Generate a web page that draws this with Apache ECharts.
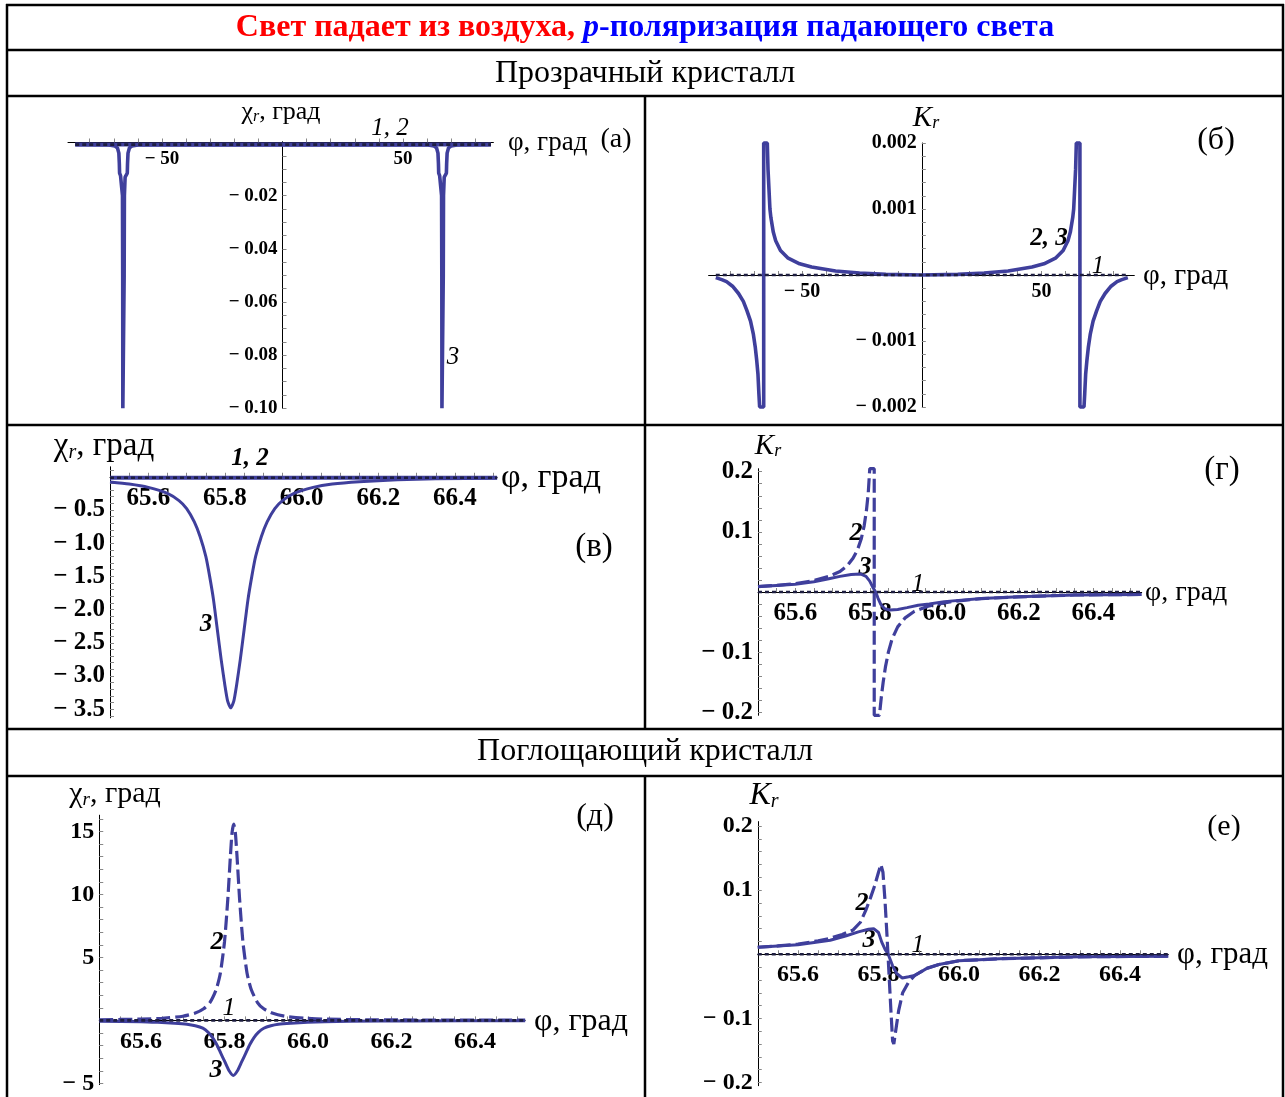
<!DOCTYPE html>
<html>
<head>
<meta charset="utf-8">
<script src="https://cdn.jsdelivr.net/npm/echarts@6/dist/echarts.min.js"></script>
<style>
  html, body { margin: 0; padding: 0; background: #fff; }
  #chart { width: 1285px; height: 1097px; }
</style>
</head>
<body>
<div id="chart"></div>
<script>
// Reflection at p-polarisation: χr and Kr vs angle of incidence φ
const chart = echarts.init(document.getElementById('chart'));

const BLUE = '#3f3f9c';
const DOT = '#1e1e40';
const SERIF = '"Liberation Serif", "Times New Roman", serif';

// ---- (а) transparent crystal, χr, wide range
const aXLabels = [-50, 50];
const aXTicks = [-80, -70, -60, -50, -40, -30, -20, -10, 10, 20, 30, 40, 50, 60, 70, 80];
const aYLabels = [-0.02, -0.04, -0.06, -0.08, -0.10];
const aYTicks = [-0.1, -0.095, -0.09, -0.085, -0.08, -0.075, -0.07, -0.065, -0.06, -0.055, -0.05,
  -0.045, -0.04, -0.035, -0.03, -0.025, -0.02, -0.015, -0.01, -0.005];
const aCurve12 = [[-86, -0.0008], [86.5, -0.0008]];
const aCurve3 = [[-86, -0.0008], [-72, -0.0009], [-69.5, -0.0013], [-68.5, -0.002], [-67.9, -0.004],
  [-67.7, -0.008], [-67.6, -0.0115], [-67.2, -0.0125], [-66.7, -0.013], [-66.4, -0.02], [-66.3, -0.05],
  [-66.25, -0.1], [-65.75, -0.1], [-65.7, -0.05], [-65.6, -0.02], [-65.3, -0.013], [-64.8, -0.0125],
  [-64.4, -0.0115], [-64.3, -0.008], [-64.1, -0.004], [-63.5, -0.002], [-62.5, -0.0013], [-60, -0.0009],
  [0, -0.0008], [60.4, -0.0009], [62.9, -0.0013], [63.9, -0.002], [64.5, -0.004], [64.7, -0.008],
  [64.8, -0.0115], [65.2, -0.0125], [65.7, -0.013], [66.0, -0.02], [66.1, -0.05], [66.15, -0.1],
  [66.65, -0.1], [66.7, -0.05], [66.8, -0.02], [67.1, -0.013], [67.6, -0.0125], [68, -0.0115],
  [68.1, -0.008], [68.3, -0.004], [68.9, -0.002], [69.9, -0.0013], [72.4, -0.0009], [86.5, -0.0008]];

// ---- (б) transparent crystal, Kr, wide range
const bXLabels = [-50, 50];
const bXTicks = [-80, -70, -60, -50, -40, -30, -20, -10, 10, 20, 30, 40, 50, 60, 70, 80];
const bYLabels = [0.002, 0.001, -0.001, -0.002];
const bYTicks = [-0.002, -0.0018, -0.0016, -0.0014, -0.0012, -0.001, -0.0008, -0.0006, -0.0004, -0.0002,
  0.0002, 0.0004, 0.0006, 0.0008, 0.001, 0.0012, 0.0014, 0.0016, 0.0018, 0.002];
const bCurve1 = [[-86, 0], [86, 0]];
const bCurve23 = [[-86, -0.00004], [-83.5, -0.00007], [-81.5, -0.0001], [-79, -0.00017], [-76.5, -0.00028],
  [-74.5, -0.0004], [-73, -0.00054], [-71.5, -0.0007], [-70.3, -0.0009], [-69.5, -0.0011], [-68.9, -0.0013],
  [-68.4, -0.0015], [-68, -0.0018], [-67.7, -0.002], [-66, -0.002], [-66, 0.002], [-64.5, 0.002],
  [-64.2, 0.0016], [-63.8, 0.0013], [-63.4, 0.001], [-63, 0.00087], [-62, 0.00065], [-61, 0.00052],
  [-59, 0.00037], [-56, 0.00026], [-51, 0.00017], [-46, 0.00012], [-36, 0.00006], [-26, 0.00003],
  [-15, 0.00001], [0, 0], [15, 0.00001], [26, 0.00003], [36, 0.00006], [46, 0.00012], [51, 0.00017],
  [56, 0.00026], [59, 0.00037], [61, 0.00052], [62, 0.00065], [63, 0.00087], [63.4, 0.001], [63.8, 0.0013],
  [64.2, 0.0016], [64.5, 0.002], [66, 0.002], [66, -0.002], [67.7, -0.002], [68, -0.0018], [68.4, -0.0015],
  [68.9, -0.0013], [69.5, -0.0011], [70.3, -0.0009], [71.5, -0.0007], [73, -0.00054], [74.5, -0.0004],
  [76.5, -0.00028], [79, -0.00017], [81.5, -0.0001], [83.5, -0.00007], [86, -0.00004]];

// ---- shared narrow-range x ticks (в, г, д, е)
const nXLabels = [65.6, 65.8, 66.0, 66.2, 66.4];
const nXTicks = [65.55, 65.6, 65.65, 65.7, 65.75, 65.8, 65.85, 65.9, 65.95, 66.0, 66.05, 66.1, 66.15,
  66.2, 66.25, 66.3, 66.35, 66.4, 66.45, 66.5];

// ---- (в) transparent crystal, χr, near 65.8°
const vYLabels = [-0.5, -1.0, -1.5, -2.0, -2.5, -3.0, -3.5];
const vYTicks = [-3.6, -3.5, -3.4, -3.3, -3.2, -3.1, -3.0, -2.9, -2.8, -2.7, -2.6, -2.5, -2.4, -2.3, -2.2,
  -2.1, -2.0, -1.9, -1.8, -1.7, -1.6, -1.5, -1.4, -1.3, -1.2, -1.1, -1.0, -0.9, -0.8, -0.7, -0.6, -0.5,
  -0.4, -0.3, -0.2, -0.1, 0.1];
const vCurve12 = [[65.5, -0.015], [66.51, -0.015]];
const vCurve3 = [[65.5, -0.08], [65.55, -0.11], [65.6, -0.16], [65.65, -0.25], [65.68, -0.36], [65.7, -0.48],
  [65.72, -0.68], [65.735, -0.9], [65.75, -1.2], [65.76, -1.5], [65.77, -1.85], [65.78, -2.3], [65.79, -2.75],
  [65.8, -3.15], [65.807, -3.38], [65.815, -3.48], [65.823, -3.38], [65.83, -3.15], [65.84, -2.75],
  [65.85, -2.3], [65.86, -1.85], [65.87, -1.5], [65.88, -1.2], [65.895, -0.9], [65.91, -0.68], [65.93, -0.48],
  [65.95, -0.36], [65.98, -0.25], [66.03, -0.16], [66.08, -0.11], [66.15, -0.075], [66.25, -0.045],
  [66.35, -0.03], [66.51, -0.02]];

// ---- (г) transparent crystal, Kr, near 65.8°
const gYLabels = [0.2, 0.1, -0.1, -0.2];
const gYTicks = [-0.2, -0.18, -0.16, -0.14, -0.12, -0.1, -0.08, -0.06, -0.04, -0.02,
  0.02, 0.04, 0.06, 0.08, 0.1, 0.12, 0.14, 0.16, 0.18, 0.2];
const gCurve1 = [[65.5, 0], [66.53, 0]];
const gCurve2 = [[65.5, 0.009], [65.55, 0.011], [65.6, 0.014], [65.65, 0.019], [65.69, 0.026], [65.72, 0.034],
  [65.74, 0.044], [65.755, 0.056], [65.767, 0.07], [65.777, 0.088], [65.785, 0.11], [65.791, 0.135],
  [65.796, 0.165], [65.8, 0.205], [65.812, 0.205], [65.812, -0.205], [65.826, -0.205], [65.831, -0.175],
  [65.836, -0.15], [65.842, -0.125], [65.85, -0.1], [65.86, -0.078], [65.875, -0.058], [65.895, -0.043],
  [65.92, -0.032], [65.96, -0.023], [66.02, -0.016], [66.1, -0.011], [66.2, -0.008], [66.35, -0.005],
  [66.53, -0.004]];
const gCurve3 = [[65.5, 0.009], [65.55, 0.011], [65.6, 0.013], [65.65, 0.017], [65.69, 0.022], [65.72, 0.026],
  [65.75, 0.029], [65.775, 0.03], [65.79, 0.026], [65.8, 0.018], [65.808, 0.008], [65.816, 0],
  [65.822, -0.01], [65.83, -0.021], [65.84, -0.028], [65.855, -0.03], [65.875, -0.029], [65.9, -0.026],
  [65.93, -0.022], [65.96, -0.02], [66.0, -0.016], [66.1, -0.011], [66.2, -0.008], [66.35, -0.005],
  [66.53, -0.004]];

// ---- (д) absorbing crystal, χr
const dYLabels = [15, 10, 5, -5];
const dYTicks = [-5, -4, -3, -2, -1, 1, 2, 3, 4, 5, 6, 7, 8, 9, 10, 11, 12, 13, 14, 15, 16];
const dCurve1 = [[65.5, 0], [66.52, 0]];
const dCurve2 = [[65.5, 0.05], [65.6, 0.1], [65.65, 0.17], [65.7, 0.33], [65.73, 0.58], [65.75, 0.92],
  [65.765, 1.42], [65.78, 2.45], [65.79, 3.75], [65.8, 6.25], [65.808, 9.7], [65.814, 13], [65.818, 14.9],
  [65.822, 15.6], [65.826, 14.9], [65.83, 13], [65.836, 9.7], [65.844, 6.25], [65.854, 3.75], [65.864, 2.45],
  [65.879, 1.42], [65.894, 0.92], [65.914, 0.58], [65.944, 0.33], [65.994, 0.17], [66.044, 0.1],
  [66.144, 0.05], [66.3, 0.025], [66.52, 0.015]];
const dCurve3 = [[65.5, -0.07], [65.6, -0.1], [65.64, -0.15], [65.68, -0.22], [65.71, -0.3], [65.73, -0.42],
  [65.748, -0.62], [65.761, -0.95], [65.771, -1.35], [65.781, -1.9], [65.791, -2.6], [65.801, -3.3],
  [65.811, -4.0], [65.821, -4.37], [65.831, -4.0], [65.841, -3.3], [65.851, -2.6], [65.861, -1.9],
  [65.871, -1.35], [65.881, -0.95], [65.894, -0.62], [65.911, -0.42], [65.929, -0.3], [65.959, -0.22],
  [65.999, -0.15], [66.04, -0.1], [66.1, -0.07], [66.25, -0.04], [66.52, -0.02]];

// ---- (е) absorbing crystal, Kr
const eYLabels = [0.2, 0.1, -0.1, -0.2];
const eYTicks = [-0.2, -0.18, -0.16, -0.14, -0.12, -0.1, -0.08, -0.06, -0.04, -0.02,
  0.02, 0.04, 0.06, 0.08, 0.1, 0.12, 0.14, 0.16, 0.18, 0.2];
const eCurve1 = [[65.5, 0], [66.52, 0]];
const eCurve2 = [[65.5, 0.011], [65.55, 0.013], [65.6, 0.016], [65.65, 0.021], [65.68, 0.025], [65.71, 0.031],
  [65.737, 0.038], [65.755, 0.05], [65.768, 0.068], [65.78, 0.088], [65.79, 0.106], [65.8, 0.128],
  [65.806, 0.14], [65.811, 0.128], [65.816, 0.085], [65.821, 0.03], [65.826, -0.03], [65.831, -0.09],
  [65.835, -0.135], [65.838, -0.14], [65.843, -0.118], [65.85, -0.088], [65.86, -0.06], [65.875, -0.043],
  [65.89, -0.033], [65.92, -0.022], [65.95, -0.016], [66.0, -0.01], [66.1, -0.007], [66.3, -0.004],
  [66.52, -0.003]];
const eCurve3 = [[65.5, 0.011], [65.6, 0.015], [65.68, 0.022], [65.72, 0.029], [65.75, 0.035], [65.775, 0.039],
  [65.788, 0.04], [65.8, 0.034], [65.808, 0.019], [65.816, 0.008], [65.824, 0], [65.835, -0.018],
  [65.845, -0.03], [65.859, -0.037], [65.875, -0.035], [65.89, -0.033], [65.92, -0.022], [65.95, -0.016],
  [66.0, -0.01], [66.1, -0.007], [66.3, -0.004], [66.52, -0.003]];

// ---------------------------------------------------------------------------
const fmt = dec => v => (v < 0 ? '\u2212 ' : '') + Math.abs(v).toFixed(dec);

const grids = [], xAxes = [], yAxes = [], series = [];

// axes are moved to the zero lines with offset (Mathematica-style crossing axes)
function zeroShift(range, size){
  if (range[0] >= 0 || range[1] <= 0) return 0;
  return -size * (0 - range[0]) / (range[1] - range[0]);
}

function panel(p){
  const i = grids.length;
  const [left, top, width, height] = p.box;
  grids.push({ left, top, width, height });
  const labelStyle = { fontFamily: SERIF, fontWeight: 'bold', fontSize: p.font, color: '#000' };
  xAxes.push({
    type: 'value', gridIndex: i, min: p.x[0], max: p.x[1], position: 'bottom',
    offset: zeroShift(p.y, height),
    axisLine: { onZero: false, lineStyle: { color: '#000', width: 1 } },
    axisTick: { show: true, inside: true, length: 4, customValues: p.xTicks, lineStyle: { color: '#888' } },
    axisLabel: Object.assign({ customValues: p.xLabels, formatter: fmt(p.xDec), margin: p.xMargin }, labelStyle),
    splitLine: { show: false }
  });
  yAxes.push({
    type: 'value', gridIndex: i, min: p.y[0], max: p.y[1], position: 'left',
    offset: zeroShift(p.x, width),
    axisLine: { onZero: false, lineStyle: { color: '#000', width: 1 } },
    axisTick: { show: true, inside: true, length: 4, customValues: p.yTicks, lineStyle: { color: '#888' } },
    axisLabel: Object.assign({ customValues: p.yLabels, formatter: fmt(p.yDec), margin: 5 }, labelStyle),
    splitLine: { show: false }
  });
  p.curves.forEach(c => {
    series.push({
      type: 'line', xAxisIndex: i, yAxisIndex: i, data: c.data,
      symbol: 'none', clip: false, silent: true, smooth: c.smooth || false,
      lineStyle: c.style, z: c.z || 2
    });
  });
}

const solid = { color: BLUE, width: 3, type: 'solid' };
const heavy = { color: BLUE, width: 3.6, type: 'solid' };
const thick = { color: BLUE, width: 4, type: 'solid' };
const dashed = { color: BLUE, width: 3.2, type: [14, 5] };
const dotted = { color: DOT, width: 2.6, type: [4, 3] };

panel({ box: [68, 141.7, 425.4, 266.6], x: [-89, 87.5], y: [-0.1, 0.0003], font: 19, xMargin: 7,
  xLabels: aXLabels, xTicks: aXTicks, yLabels: aYLabels, yTicks: aYTicks, xDec: 0, yDec: 2,
  curves: [{ data: aCurve12, style: thick }, { data: aCurve3, style: heavy, z: 3 }, { data: aCurve12, style: dotted, z: 4 }] });
panel({ box: [708.6, 143, 425.7, 264], x: [-89, 88.7], y: [-0.002, 0.002], font: 20, xMargin: 7,
  xLabels: bXLabels, xTicks: bXTicks, yLabels: bYLabels, yTicks: bYTicks, xDec: 0, yDec: 3,
  curves: [{ data: bCurve23, style: heavy, z: 3 }, { data: bCurve1, style: dotted, z: 4 }] });
panel({ box: [110, 466.8, 387.1, 251], x: [65.5, 66.51], y: [-3.63, 0.15], font: 25, xMargin: 9,
  xLabels: nXLabels, xTicks: nXTicks, yLabels: vYLabels, yTicks: vYTicks, xDec: 1, yDec: 1,
  curves: [{ data: vCurve12, style: thick }, { data: vCurve3, style: solid, z: 3, smooth: 0.2 }, { data: vCurve12, style: dotted, z: 4 }] });
panel({ box: [758, 468.7, 383.7, 246.6], x: [65.5, 66.53], y: [-0.205, 0.205], font: 25, xMargin: 9,
  xLabels: nXLabels, xTicks: nXTicks, yLabels: gYLabels, yTicks: gYTicks, xDec: 1, yDec: 1,
  curves: [{ data: gCurve2, style: dashed }, { data: gCurve3, style: solid, z: 3 }, { data: gCurve1, style: dotted, z: 4 }] });
panel({ box: [99.25, 815.2, 425.9, 269.4], x: [65.5, 66.52], y: [-5.1, 16.3], font: 24, xMargin: 9,
  xLabels: nXLabels, xTicks: nXTicks, yLabels: dYLabels, yTicks: dYTicks, xDec: 1, yDec: 0,
  curves: [{ data: dCurve2, style: dashed, smooth: 0.2 }, { data: dCurve3, style: solid, z: 3, smooth: 0.2 }, { data: dCurve1, style: dotted, z: 4 }] });
panel({ box: [757.75, 821.6, 410.6, 264.1], x: [65.5, 66.52], y: [-0.205, 0.207], font: 24, xMargin: 9,
  xLabels: nXLabels, xTicks: nXTicks, yLabels: eYLabels, yTicks: eYTicks, xDec: 1, yDec: 1,
  curves: [{ data: eCurve2, style: dashed }, { data: eCurve3, style: solid, z: 3 }, { data: eCurve1, style: dotted, z: 4 }] });

// ---- table frame and texts
const g = [];
const hline = (y, x1, x2) => g.push({ type: 'line', silent: true, shape: { x1, y1: y, x2, y2: y }, style: { stroke: '#000', lineWidth: 2.5 } });
const vline = (x, y1, y2) => g.push({ type: 'line', silent: true, shape: { x1: x, y1, x2: x, y2 }, style: { stroke: '#000', lineWidth: 2.5 } });
[5, 50, 96, 425, 729, 776].forEach(y => hline(y, 6, 1284));
vline(7, 4, 1097); vline(1283, 4, 1097);
vline(645, 96, 729); vline(645, 776, 1097);

function txt(x, y, text, size, opt){
  opt = opt || {};
  g.push({ type: 'text', silent: true, x, y, style: Object.assign({
    text, fontFamily: SERIF, fontSize: size, fill: '#000',
    align: opt.align || 'center', verticalAlign: 'middle'
  }, opt.style || {}) });
}
const it = { fontStyle: 'italic' };
const bit = { fontStyle: 'italic', fontWeight: 'bold' };

function chiLabel(x, y, size){
  txt(x, y, '{g|χ}{s|r}{n|, град}', size, { style: { rich: {
    g: { fontFamily: SERIF, fontSize: size },
    s: { fontFamily: SERIF, fontSize: Math.round(size * 0.62), fontStyle: 'italic', verticalAlign: 'bottom' },
    n: { fontFamily: SERIF, fontSize: size }
  } } });
}
function kLabel(x, y, size){
  txt(x, y, '{k|K}{s|r}', size, { style: { rich: {
    k: { fontFamily: SERIF, fontSize: size, fontStyle: 'italic' },
    s: { fontFamily: SERIF, fontSize: Math.round(size * 0.62), fontStyle: 'italic', verticalAlign: 'bottom' }
  } } });
}

txt(645, 28, '{r|Свет падает из воздуха, }{p|p}{b|-поляризация падающего света}', 32, { style: { rich: {
  r: { fontFamily: SERIF, fontSize: 32, fontWeight: 'bold', fill: '#ff0000' },
  p: { fontFamily: SERIF, fontSize: 32, fontWeight: 'bold', fontStyle: 'italic', fill: '#0000ff' },
  b: { fontFamily: SERIF, fontSize: 32, fontWeight: 'bold', fill: '#0000ff' }
} } });
txt(645, 74, 'Прозрачный кристалл', 32);
txt(645, 752, 'Поглощающий кристалл', 32);

// (а)
chiLabel(281, 112, 26);
txt(390, 128, '1, 2', 25, { style: it });
txt(508, 143, 'φ, град', 27, { align: 'left' });
txt(616, 140, '(а)', 28);
txt(453, 357, '3', 25, { style: it });
// (б)
kLabel(926, 118, 29);
txt(1216, 141, '(б)', 32);
txt(1049, 239, '2, 3', 25, { style: bit });
txt(1098, 266, '1', 25, { style: it });
txt(1143, 276, 'φ, град', 29, { align: 'left' });
// (в)
chiLabel(104, 446, 33);
txt(250, 459, '1, 2', 25, { style: bit });
txt(501, 478, 'φ, град', 34, { align: 'left' });
txt(594, 547, '(в)', 33);
txt(206, 625, '3', 25, { style: bit });
// (г)
kLabel(768, 446, 29);
txt(1222, 470, '(г)', 33);
txt(856, 533, '2', 26, { style: bit });
txt(865, 567, '3', 26, { style: bit });
txt(918, 584, '1', 26, { style: it });
txt(1145, 593, 'φ, град', 28, { align: 'left' });
// (д)
chiLabel(115, 794, 30);
txt(595, 817, '(д)', 32);
txt(217, 942, '2', 26, { style: bit });
txt(229, 1008, '1', 26, { style: it });
txt(216, 1070, '3', 26, { style: bit });
txt(534, 1022, 'φ, град', 32, { align: 'left' });
// (е)
kLabel(764, 796, 32);
txt(1224, 827, '(е)', 30);
txt(862, 903, '2', 26, { style: bit });
txt(869, 940, '3', 26, { style: bit });
txt(918, 945, '1', 26, { style: it });
txt(1177, 955, 'φ, град', 31, { align: 'left' });

chart.setOption({
  animation: false,
  backgroundColor: '#fff',
  grid: grids,
  xAxis: xAxes,
  yAxis: yAxes,
  series: series,
  graphic: { elements: g }
});
</script>
</body>
</html>
